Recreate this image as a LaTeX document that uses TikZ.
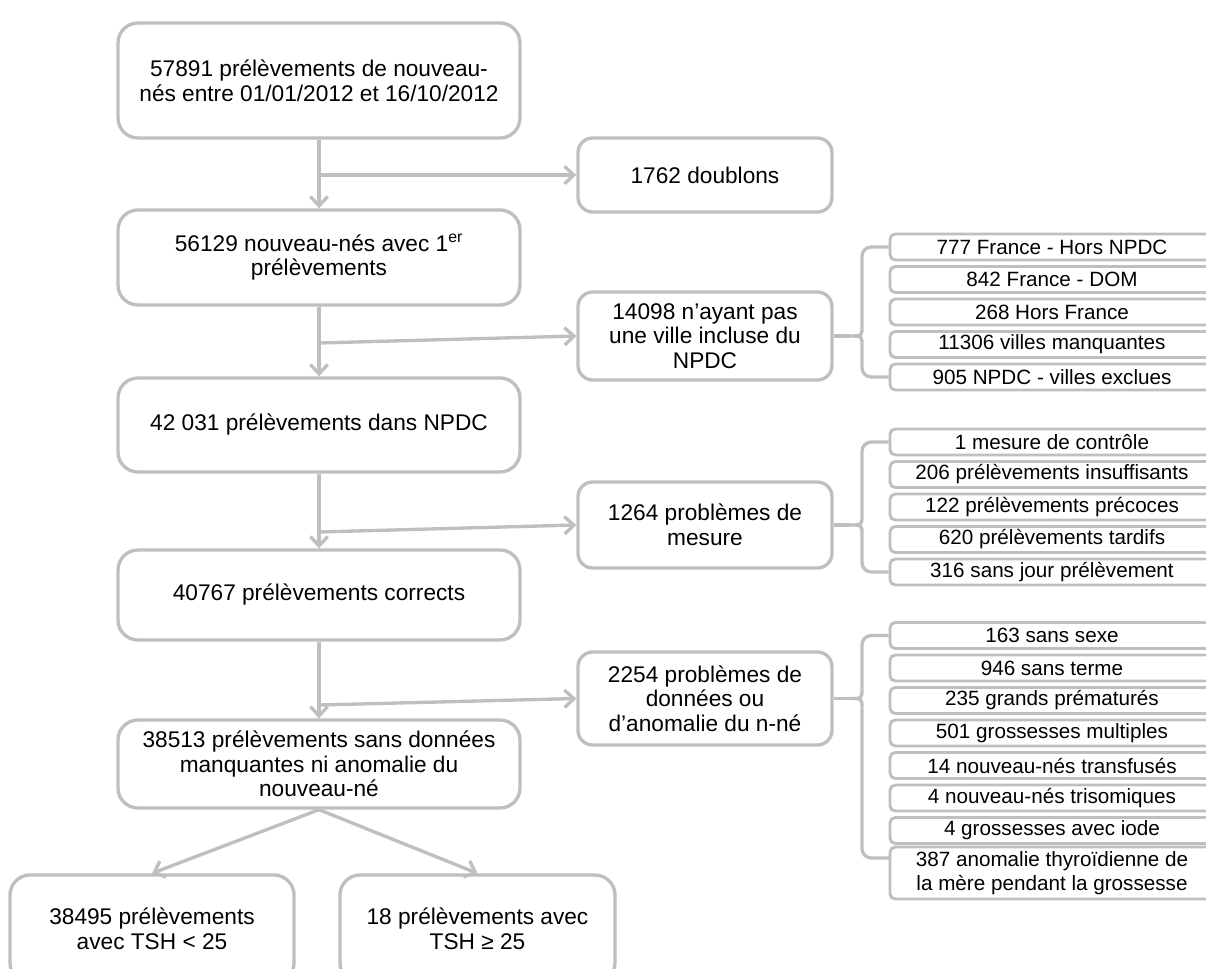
\documentclass[tikz,border=0pt]{standalone}
\usepackage{fontspec}
\setmainfont{Liberation Sans}
\usetikzlibrary{arrows.meta}
\definecolor{linegray}{HTML}{BFBFBF}

\begin{document}
\begin{tikzpicture}[x=0.75pt,y=-0.75pt,
		link/.style={draw=linegray,line width=2.5pt},
		arr/.style={link,-{Straight Barb[length=7pt,width=13pt]}},
		mainbox/.style={draw=linegray,line width=2.5pt,rounded corners=15pt,minimum width=301.5pt,
			inner sep=0pt,align=center,font=\fontsize{17}{18.5}\selectfont},
		sidebox/.style={mainbox,rounded corners=11pt,minimum width=190.5pt},
		listbox/.style={draw=linegray,line width=2.2pt,rounded corners=4pt,minimum width=243pt,
			minimum height=19.5pt,inner sep=0pt,align=center,font=\fontsize{15.5}{18}\selectfont}]
	\useasboundingbox (0,0) rectangle (1206,969);
	
	% main column
	\node[mainbox,minimum height=86.25pt] (b1) at (319,80.5) {57891 prélèvements de nouveau-\\nés entre 01/01/2012 et 16/10/2012};
	\node[mainbox,minimum height=71.25pt] (b2) at (319,257.5) {56129 nouveau-nés avec 1\textsuperscript{er}\\prélèvements};
	\node[mainbox,minimum height=70.5pt] (b3) at (319,425) {42 031 prélèvements dans NPDC};
	\node[mainbox,minimum height=67.5pt] (b4) at (319,595) {40767 prélèvements corrects};
	\node[mainbox,minimum height=66pt] (b5) at (319,764) {38513 prélèvements sans données\\manquantes ni anomalie du\\nouveau-né};
	\node[mainbox,minimum width=213pt,minimum height=81pt] (t1) at (152,929) {38495 prélèvements\\avec TSH < 25};
	\node[mainbox,minimum width=206.25pt,minimum height=81pt] (t2) at (477.5,929) {18 prélèvements avec\\TSH ≥ 25};
	
	% excluded
	\node[sidebox,minimum height=55.5pt] (dbl) at (705,175) {1762 doublons};
	\node[sidebox,minimum height=66pt] (n14) at (705,336) {14098 n’ayant pas\\une ville incluse du\\NPDC};
	\node[sidebox,minimum height=64.5pt] (m12) at (705,525) {1264 problèmes de\\mesure};
	\node[sidebox,minimum height=69.75pt] (d22) at (705,698.5) {2254 problèmes de\\données ou\\d’anomalie du n-né};
	
	% details
	\node[listbox] (r11) at (1052,247) {777 France - Hors NPDC};
	\node[listbox] (r12) at (1052,279.5) {842 France - DOM};
	\node[listbox] (r13) at (1052,312) {268 Hors France};
	\node[listbox] (r14) at (1052,344.5) {11306 villes manquantes};
	\node[listbox] (r15) at (1052,377) {905 NPDC - villes exclues};
	
	\node[listbox] (r21) at (1052,442) {1 mesure de contrôle};
	\node[listbox] (r22) at (1052,474.5) {206 prélèvements insuffisants};
	\node[listbox] (r23) at (1052,507) {122 prélèvements précoces};
	\node[listbox] (r24) at (1052,539.5) {620 prélèvements tardifs};
	\node[listbox] (r25) at (1052,572) {316 sans jour prélèvement};
	
	\node[listbox] (r31) at (1052,635.5) {163 sans sexe};
	\node[listbox] (r32) at (1052,668) {946 sans terme};
	\node[listbox] (r33) at (1052,700.5) {235 grands prématurés};
	\node[listbox] (r34) at (1052,733) {501 grossesses multiples};
	\node[listbox] (r35) at (1052,765.5) {14 nouveau-nés transfusés};
	\node[listbox] (r36) at (1052,798) {4 nouveau-nés trisomiques};
	\node[listbox] (r37) at (1052,830.5) {4 grossesses avec iode};
	\node[listbox,minimum height=39pt] (r38) at (1052,873) {387 anomalie thyroïdienne de\\la mère pendant la grossesse};
	
	% stem and branches
	\draw[arr] (b1) -- (b2);
	\draw[arr] (b2) -- (b3);
	\draw[arr] (b3) -- (b4);
	\draw[arr] (b4) -- (b5);
	\draw[arr] (b5.south) -- (t1.north);
	\draw[arr] (b5.south) -- (t2.north);
	
	\coordinate (j1) at (319,175);
	\coordinate (j2) at (319,343);
	\coordinate (j3) at (319,532);
	\coordinate (j4) at (319,705);
	\draw[arr] (j1) -- (dbl);
	\draw[arr] (j2) -- (n14.west);
	\draw[arr] (j3) -- (m12.west);
	\draw[arr] (j4) -- (d22.west);
	
	% braces
	\coordinate (k1) at (850,336);
	\coordinate (k2) at (850,525);
	\coordinate (k3) at (850,698.5);
	\coordinate (h3) at (890,858);
	\draw[link] (n14.east) -- (k1);
	\draw[link] (m12.east) -- (k2);
	\draw[link] (d22.east) -- (k3);
	
	\draw[link,rounded corners=7pt] (r11.west) -| (862,326);
	\draw[link] (862,326) .. controls (862,336) .. (k1) .. controls (862,336) .. (862,346);
	\draw[link,rounded corners=7pt] (862,346) |- (r15.west);
	
	\draw[link,rounded corners=7pt] (r21.west) -| (862,515);
	\draw[link] (862,515) .. controls (862,525) .. (k2) .. controls (862,525) .. (862,535);
	\draw[link,rounded corners=7pt] (862,535) |- (r25.west);
	
	\draw[link,rounded corners=7pt] (r31.west) -| (862,688.5);
	\draw[link] (862,688.5) .. controls (862,698.5) .. (k3) .. controls (862,698.5) .. (862,708.5);
	\draw[link,rounded corners=7pt] (862,708.5) |- (h3);
\end{tikzpicture}
\end{document}
